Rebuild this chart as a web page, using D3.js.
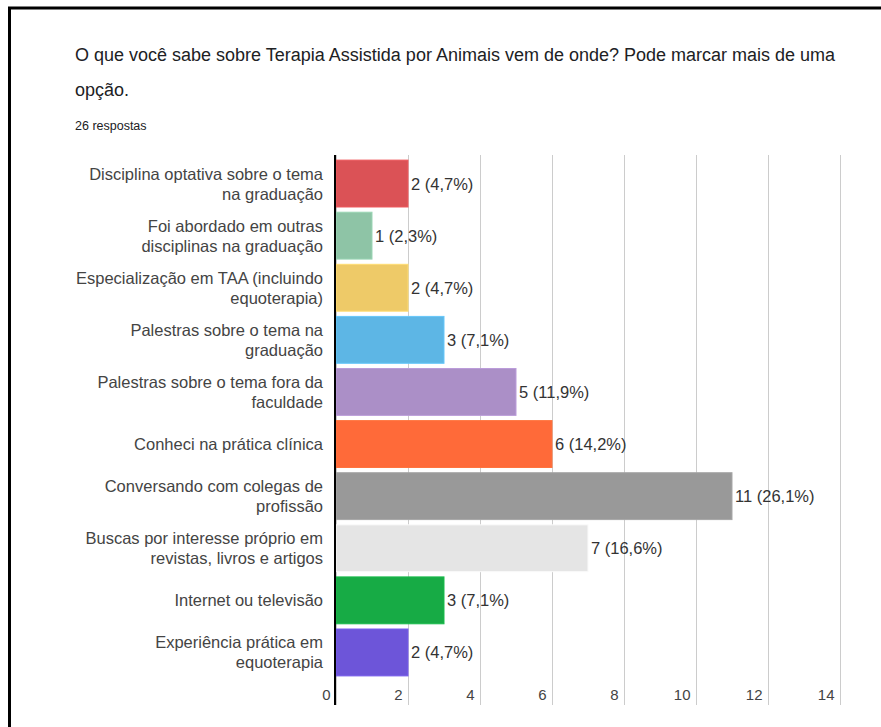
<!DOCTYPE html>
<html lang="pt">
<head>
<meta charset="UTF-8">
<title>Terapia Assistida por Animais</title>
<script src="https://d3js.org/d3.v7.min.js"></script>
<style>
  body { margin: 0; background: #fff; }
  svg { display: block; font-family: "Liberation Sans", Arial, sans-serif; }
</style>
</head>
<body>
<div id="chart"></div>
<script>
// dados
const titleLines = [
  "O que você sabe sobre Terapia Assistida por Animais vem de onde? Pode marcar mais de uma",
  "opção."
];
const subtitle = "26 respostas";

const categories = [
  "Disciplina optativa sobre o tema\nna graduação",
  "Foi abordado em outras\ndisciplinas na graduação",
  "Especialização em TAA (incluindo\nequoterapia)",
  "Palestras sobre o tema na\ngraduação",
  "Palestras sobre o tema fora da\nfaculdade",
  "Conheci na prática clínica",
  "Conversando com colegas de\nprofissão",
  "Buscas por interesse próprio em\nrevistas, livros e artigos",
  "Internet ou televisão",
  "Experiência prática em\nequoterapia"
];
const counts = [2, 1, 2, 3, 5, 6, 11, 7, 3, 2];
const percents = ["4,7%", "2,3%", "4,7%", "7,1%", "11,9%", "14,2%", "26,1%", "16,6%", "7,1%", "4,7%"];
const colors = ["#db5256", "#8ec4a6", "#eeca68", "#5db6e5", "#ab8fc7",
                 "#ff6a39", "#999999", "#e5e5e5", "#17ab45", "#6d55d9"];
const xTicks = [0, 2, 4, 6, 8, 10, 12, 14];

const W = 881, H = 727;
const svg = d3.select("#chart").append("svg")
  .attr("width", W).attr("height", H);

// moldura (so topo e esquerda aparecem)
svg.append("path")
  .attr("d", "M9.5,727V8H881")
  .attr("fill", "none")
  .attr("stroke", "#000")
  .attr("stroke-width", 3);

// titulo
svg.selectAll("text.title")
  .data(titleLines)
  .enter().append("text")
  .attr("class", "title")
  .attr("x", 75)
  .attr("y", (d, i) => 61 + i * 35)
  .attr("font-size", 18)
  .attr("fill", "#202124")
  .text(d => d);

svg.append("text")
  .attr("x", 75).attr("y", 130)
  .attr("font-size", 12.5)
  .attr("fill", "#202124")
  .text(subtitle);

const gridTop = 155, gridBottom = 705;

const x = d3.scaleLinear().domain([0, 14]).range([336, 840]);
const y = d3.scaleBand()
  .domain(d3.range(categories.length))
  .range([157.5, 678.5])
  .paddingInner(0.1)
  .paddingOuter(0.05);

// eixo x com linhas de grade
const xAxis = svg.append("g")
  .attr("transform", `translate(0,${gridBottom})`)
  .call(d3.axisBottom(x).tickValues(xTicks).tickSize(-(gridBottom - gridTop)).tickFormat(d3.format("d")));
xAxis.select(".domain").remove();
xAxis.selectAll(".tick line").attr("stroke", "#cccccc");
xAxis.selectAll(".tick text")
  .attr("y", -5).attr("dy", 0).attr("dx", -6)
  .attr("text-anchor", "end")
  .attr("font-size", 15)
  .attr("font-family", "'Liberation Sans', Arial, sans-serif")
  .attr("fill", "#444");

// barras
svg.selectAll("rect.bar")
  .data(counts)
  .enter().append("rect")
  .attr("class", "bar")
  .attr("x", x(0))
  .attr("y", (d, i) => y(i))
  .attr("width", d => x(d) - x(0))
  .attr("height", y.bandwidth())
  .attr("fill", (d, i) => colors[i])
  .attr("stroke", (d, i) => d3.color(colors[i]).brighter(0.25))
  .attr("stroke-width", 1);

// linha do eixo vertical
svg.append("line")
  .attr("x1", 335).attr("x2", 335)
  .attr("y1", gridTop).attr("y2", gridBottom)
  .attr("stroke", "#000").attr("stroke-width", 2);

// rotulos de valor
svg.selectAll("text.val")
  .data(counts)
  .enter().append("text")
  .attr("class", "val")
  .attr("x", d => x(d) + 3)
  .attr("y", (d, i) => y(i) + y.bandwidth() / 2 + 6)
  .attr("font-size", 16.5)
  .attr("fill", "#333")
  .text((d, i) => `${d} (${percents[i]})`);

// rotulos das categorias
const lab = svg.selectAll("text.cat")
  .data(categories)
  .enter().append("text")
  .attr("class", "cat")
  .attr("text-anchor", "end")
  .attr("font-size", 16.5)
  .attr("fill", "#444");
lab.each(function(d, i) {
  const lines = d.split("\n");
  const cy = y(i) + y.bandwidth() / 2;
  d3.select(this).selectAll("tspan")
    .data(lines)
    .enter().append("tspan")
    .attr("x", 323)
    .attr("y", (l, j) => cy + (j - (lines.length - 1) / 2) * 20 + 6)
    .text(l => l);
});
</script>
</body>
</html>
